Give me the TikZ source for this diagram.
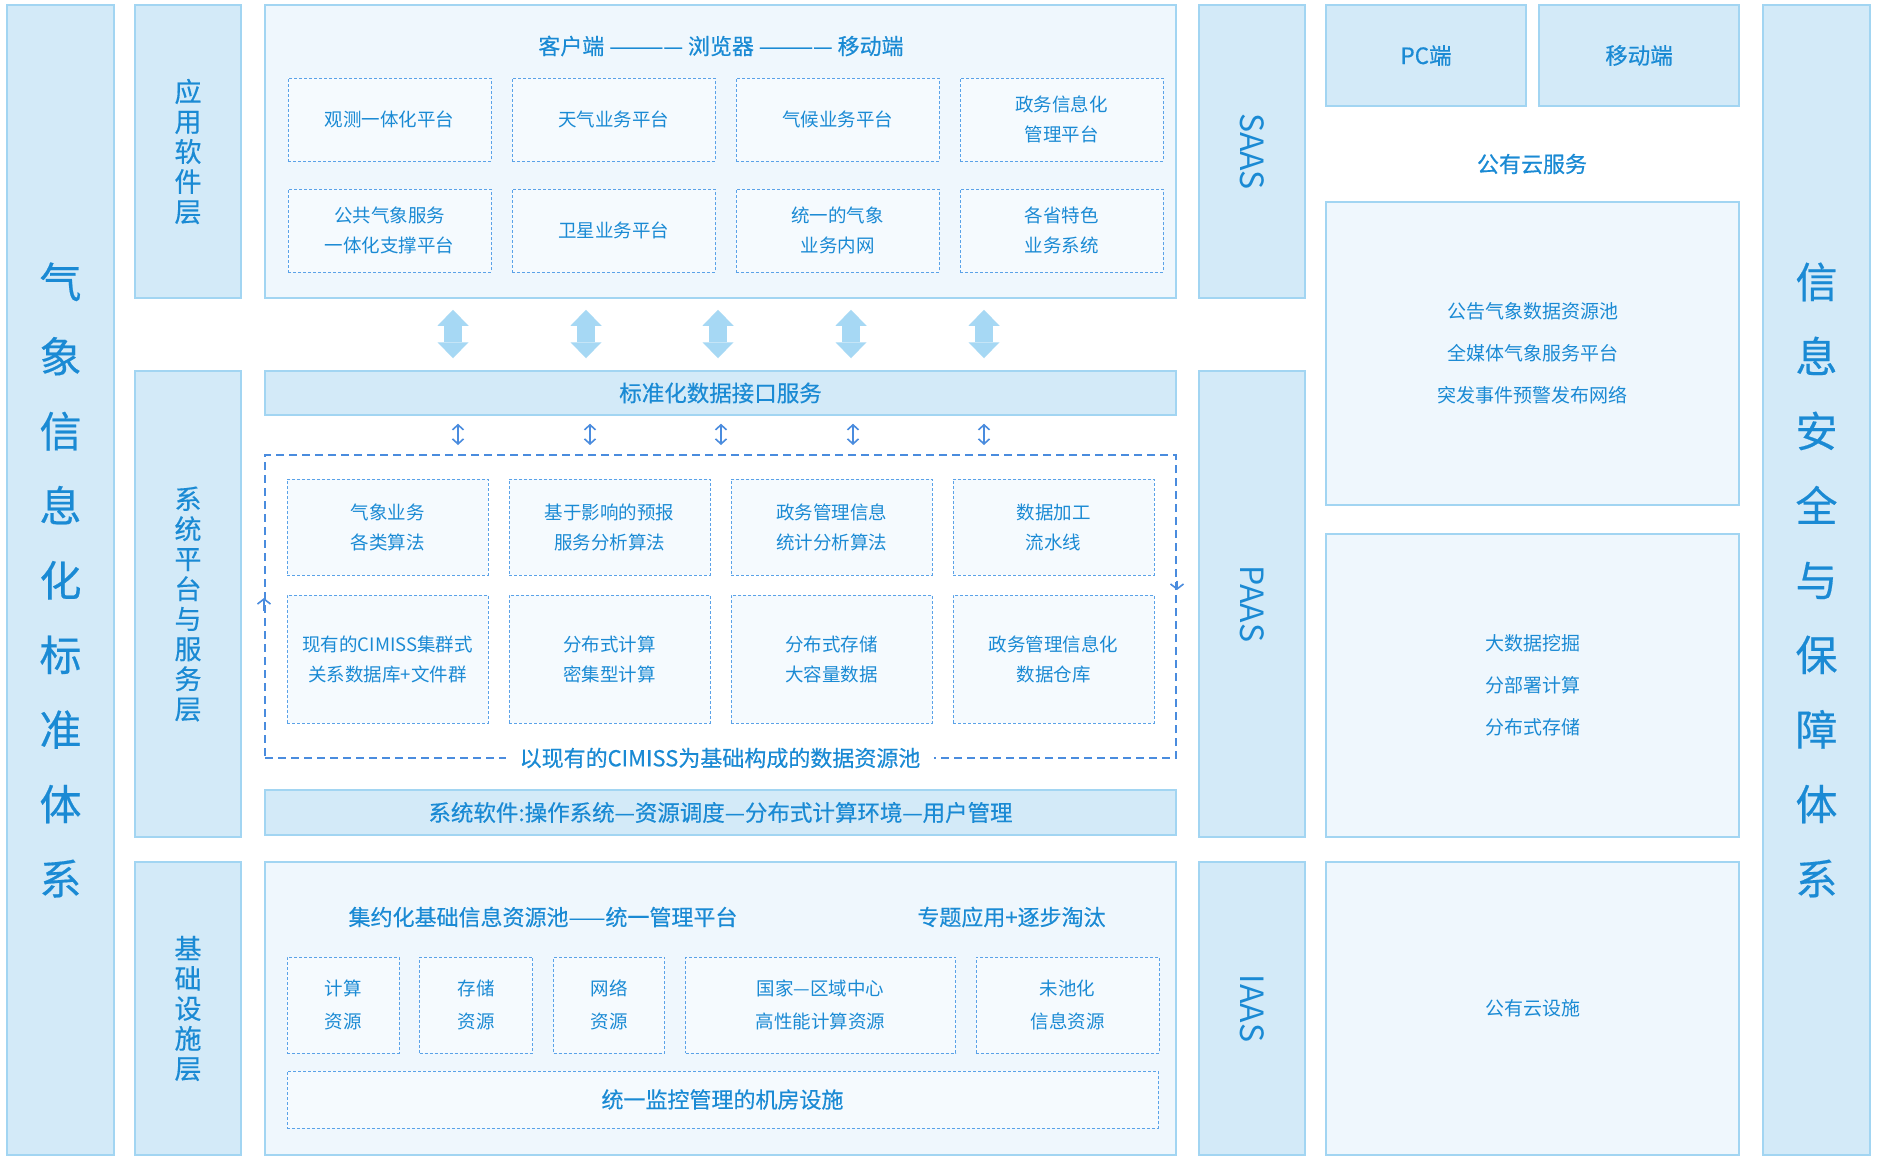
\documentclass[tikz,border=0pt]{standalone}
\usepackage{fontspec}
\setmainfont{Noto Sans CJK SC}
\newfontfamily\titlefont{Noto Sans CJK SC}[FakeBold=0.4]
\usetikzlibrary{arrows.meta, positioning, calc}

\definecolor{colfill}{HTML}{D3EAF8}
\definecolor{colline}{HTML}{A2D5F2}
\definecolor{panelfill}{HTML}{EFF7FD}
\definecolor{boxfill}{HTML}{F5FAFE}
\definecolor{txtblue}{HTML}{1A8AD4}
\definecolor{dashblue}{HTML}{5AA2E8}
\definecolor{poolblue}{HTML}{4A8CDE}
\definecolor{arrowfill}{HTML}{A6D8F4}

\begin{document}
\begin{tikzpicture}[x=1pt, y=-1pt,
    % Styles
    column/.style={draw=colline, line width=1.5pt, fill=colfill, inner sep=0pt, text=txtblue, align=center},
    panel/.style={draw=colline, line width=1.5pt, fill=panelfill, inner sep=0pt},
    bar/.style={column, font=\titlefont\fontsize{22.5pt}{26pt}\selectfont},
    cell/.style={draw=dashblue, line width=1pt, dash pattern=on 3pt off 2pt, fill=boxfill, text=txtblue, align=center, inner sep=0pt, font=\fontsize{18.5pt}{30pt}\selectfont},
    topcell/.style={cell, minimum width=203pt, minimum height=83pt},
    poolcell/.style={cell, minimum width=201pt},
    basecell/.style={cell, minimum height=96pt, font=\fontsize{18.5pt}{33pt}\selectfont},
    bigtext/.style={font=\titlefont\fontsize{42pt}{74.6pt}\selectfont},
    layertext/.style={font=\titlefont\fontsize{27pt}{30pt}\selectfont},
    svctext/.style={text=txtblue, rotate=-90, font=\fontsize{32pt}{32pt}\selectfont},
    heading/.style={text=txtblue, font=\titlefont\fontsize{22pt}{26pt}\selectfont},
    cloudtext/.style={text=txtblue, align=center, font=\fontsize{19pt}{42pt}\selectfont},
    pool/.style={draw=poolblue, line width=2pt, dash pattern=on 8pt off 5pt, inner sep=0pt},
    bigarrow/.style={draw=arrowfill, line width=18pt, {Triangle[length=16pt, width=31pt, line width=0pt]}-{Triangle[length=16pt, width=31pt, line width=0pt]}},
    smallarrow/.style={draw=poolblue, line width=1.6pt, {Straight Barb[length=5pt, width=11pt]}-{Straight Barb[length=5pt, width=11pt]}},
    chevron/.style={draw=poolblue, line width=1.6pt, -{Straight Barb[length=5pt, width=13pt]}},
    node distance=20pt
]
    \useasboundingbox (0,0) rectangle (1880,1162);
    \fill[white] (0,0) rectangle (1880,1162);

    % Standards column (left)
    \node[column, bigtext, minimum width=107pt, minimum height=1150pt] (stdcol) at (60.5,580) {气\\象\\信\\息\\化\\标\\准\\体\\系};

    % Layer columns
    \node[column, layertext, minimum width=106pt, minimum height=293pt] (applayer) at (188,151.5) {应\\用\\软\\件\\层};
    \node[column, layertext, minimum width=106pt, minimum height=466pt] (syslayer) at (188,604) {系\\统\\平\\台\\与\\服\\务\\层};
    \node[column, layertext, minimum width=106pt, minimum height=293pt] (baselayer) at (188,1008.5) {基\\础\\设\\施\\层};

    % Application software panel
    \node[panel, minimum width=911pt, minimum height=293pt] (appbox) at (720.5,151.5) {};
    \node[heading] (clients) at (721,46) {客户端 ———— 浏览器 ———— 移动端};
    \node[topcell] (obs) at (389.5,119.5) {观测一体化平台};
    \node[topcell, right=20pt of obs] (weather) {天气业务平台};
    \node[topcell, right=20pt of weather] (climate) {气候业务平台};
    \node[topcell, right=20pt of climate] (govinfo) {政务信息化\\管理平台};
    \node[topcell, below=27pt of obs] (public) {公共气象服务\\一体化支撑平台};
    \node[topcell, below=27pt of weather] (satellite) {卫星业务平台};
    \node[topcell, below=27pt of climate] (intranet) {统一的气象\\业务内网};
    \node[topcell, below=27pt of govinfo] (provincial) {各省特色\\业务系统};

    % Standard data interface
    \node[bar, minimum width=911pt, minimum height=44pt] (stdbar) at (720.5,393) {标准化数据接口服务};

    % Data resource pool
    \node[pool, minimum width=911pt, minimum height=303pt] (pool) at (720.5,606.5) {};
    \node[poolcell, minimum height=96pt] (alg) at (387.5,527) {气象业务\\各类算法};
    \node[poolcell, minimum height=96pt, right=20pt of alg] (impact) {基于影响的预报\\服务分析算法};
    \node[poolcell, minimum height=96pt, right=20pt of impact] (govstat) {政务管理信息\\统计分析算法};
    \node[poolcell, minimum height=96pt, right=20pt of govstat] (pipeline) {数据加工\\流水线};
    \node[poolcell, minimum height=128pt, below=19pt of alg] (cimiss) {现有的CIMISS集群式\\关系数据库+文件群};
    \node[poolcell, minimum height=128pt, below=19pt of impact] (distcomp) {分布式计算\\密集型计算};
    \node[poolcell, minimum height=128pt, below=19pt of govstat] (diststore) {分布式存储\\大容量数据};
    \node[poolcell, minimum height=128pt, below=19pt of pipeline] (warehouse) {政务管理信息化\\数据仓库};
    \node[heading, fill=white, inner xsep=14pt] (poollabel) at (720,758) {以现有的CIMISS为基础构成的数据资源池};
    \draw[chevron] ($(pool.west)+(0,4)$) -- ($(pool.west)+(0,-8.5)$);
    \draw[chevron] ($(pool.east)+(0,-26)$) -- ($(pool.east)+(0,-16.5)$);

    % System software
    \node[bar, minimum width=911pt, minimum height=45pt] (sysbar) at (720.5,812.5) {系统软件:操作系统—资源调度—分布式计算环境—用户管理};

    % Infrastructure panel
    \node[panel, minimum width=911pt, minimum height=293pt] (basebox) at (720.5,1008.5) {};
    \node[heading] (pooltitle) at (543,917) {集约化基础信息资源池——统一管理平台};
    \node[heading] (phaseout) at (1011.5,917) {专题应用+逐步淘汰};
    \node[basecell, minimum width=112pt] (compute) at (343,1005) {计算\\资源};
    \node[basecell, minimum width=113pt, right=19.5pt of compute] (storage) {存储\\资源};
    \node[basecell, minimum width=111pt, right=20pt of storage] (network) {网络\\资源};
    \node[basecell, minimum width=270pt, right=20pt of network] (hpc) {国家—区域中心\\高性能计算资源};
    \node[basecell, minimum width=183pt, right=19.5pt of hpc] (legacy) {未池化\\信息资源};
    \node[cell, minimum width=871pt, minimum height=57pt, font=\titlefont\fontsize{22pt}{26pt}\selectfont] (machineroom) at (722.5,1099.5) {统一监控管理的机房设施};

    % Arrows between layers
    \foreach \ax in {453,586,718,851,984}
        \draw[bigarrow] ($(appbox.south -| \ax,0)+(0,11)$) -- ($(stdbar.north -| \ax,0)+(0,-12)$);
    \foreach \ax in {458,590,721,853,984}
        \draw[smallarrow] ($(stdbar.south -| \ax,0)+(0,8)$) -- ($(pool.north -| \ax,0)+(0,-9)$);

    % Service columns
    \node[column, minimum width=106pt, minimum height=293pt] (saas) at (1252,151.5) {};
    \node[svctext] at (saas) {SAAS};
    \node[column, minimum width=106pt, minimum height=466pt] (paas) at (1252,604) {};
    \node[svctext] at (paas) {PAAS};
    \node[column, minimum width=106pt, minimum height=293pt] (iaas) at (1252,1008.5) {};
    \node[svctext] at (iaas) {IAAS};

    % Public cloud
    \node[bar, minimum width=200pt, minimum height=101pt] (pc) at (1426,55.5) {PC端};
    \node[bar, minimum width=200pt, minimum height=101pt] (mobile) at (1639,55.5) {移动端};
    \node[heading] (cloudsvc) at (1532,164) {公有云服务};
    \node[panel, cloudtext, minimum width=413pt, minimum height=303pt] (cloudres) at (1532.5,353.5) {公告气象数据资源池\\全媒体气象服务平台\\突发事件预警发布网络};
    \node[panel, cloudtext, minimum width=413pt, minimum height=303pt] (cloudplat) at (1532.5,685.5) {大数据挖掘\\分部署计算\\分布式存储};
    \node[panel, cloudtext, minimum width=413pt, minimum height=293pt] (cloudinfra) at (1532.5,1008.5) {公有云设施};

    % Security column (right)
    \node[column, bigtext, minimum width=107pt, minimum height=1150pt] (seccol) at (1816.5,580) {信\\息\\安\\全\\与\\保\\障\\体\\系};
\end{tikzpicture}
\end{document}
